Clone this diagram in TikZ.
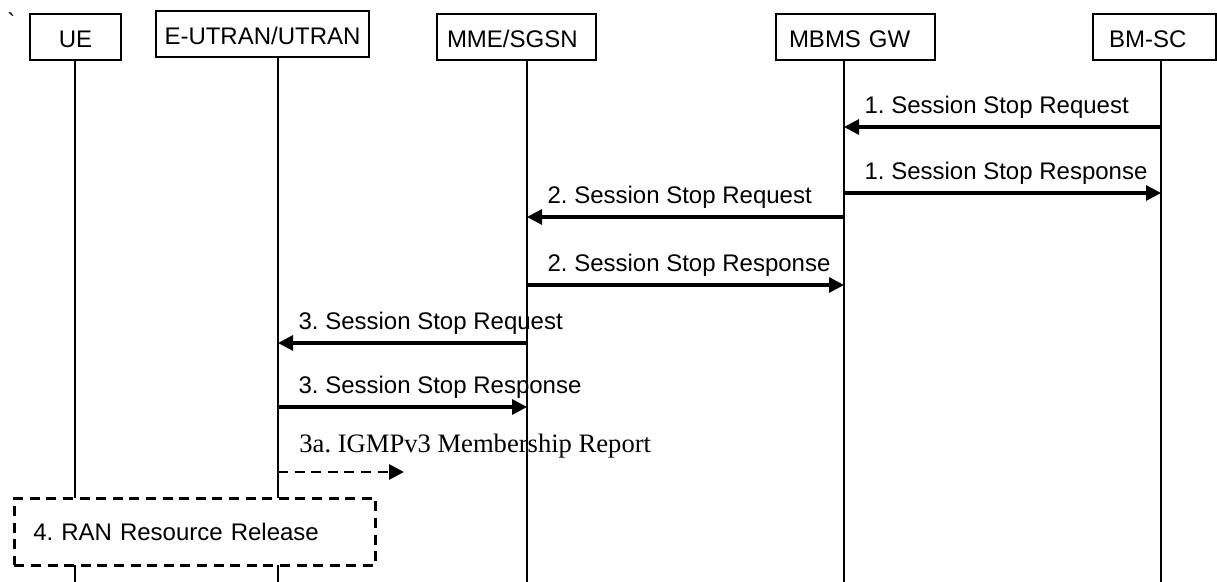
\documentclass[tikz,border=0pt]{standalone}
\usepackage{fontspec}
\setmainfont{Liberation Sans}
\newfontfamily\timesfont{Liberation Serif}
\newfontfamily\gravefont{Liberation Sans}[Ligatures=TeXOff]
\usetikzlibrary{arrows.meta}
\frenchspacing
\tikzset{
  every picture/.style={font={\fontsize{12}{14}\selectfont}, >={Triangle[length=7.5pt,width=7.5pt]}}}

\begin{document}
\begin{tikzpicture}[
    entity/.style={
      draw,
      line width=1pt,
      anchor=north west,
      minimum height=23pt,
      inner ysep=0pt,
      text height=11pt,
      text depth=0pt},
    padded/.style={
      align=left,
      inner xsep=#1,
      text width=79.5pt-2*#1},
    lifeline/.style={line width=0.8pt},
    msg/.style={->, line width=1.6pt},
    note/.style={line width=1.4pt, dash pattern=on 5pt off 3.3pt},
    msglabel/.style={anchor=base west, xshift=9.5pt, yshift=6.5pt, inner sep=0pt}]

    \useasboundingbox (0,0) rectangle (608.5pt,-291pt);

    \node[anchor=base west, inner sep=0pt, font=\gravefont\fontsize{12}{14}\selectfont] (tick) at (3.5pt,-15.5pt) {`};

    % entities
    \node[entity, minimum width=45.5pt] (UE) at (14.5pt,-6.5pt) {UE};
    \node[entity, minimum width=106.5pt, inner xsep=0pt] (RAN) at (77.5pt,-5pt) {E-UTRAN/UTRAN};
    \node[entity, minimum width=79.5pt, padded=5pt] (MME) at (218pt,-6.5pt) {MME/SGSN};
    \node[entity, minimum width=79.5pt, padded=6.5pt] (GW) at (387.5pt,-6.5pt) {MBMS GW};
    \node[entity, minimum width=61.5pt, align=left, inner xsep=8pt, text width=45.5pt] (BMSC) at (546pt,-6.5pt) {BM-SC};

    % lifelines
    \coordinate (UEx) at (37.5pt,0);
    \coordinate (RANx) at (139pt,0);
    \coordinate (MMEx) at (263.5pt,0);
    \coordinate (GWx) at (422pt,0);
    \coordinate (BMSCx) at (580.5pt,0);
    \coordinate (floor) at (0,-291pt);

    \draw[lifeline] (UE.south -| UEx) -- (floor -| UEx);
    \draw[lifeline] (RAN.south -| RANx) -- (floor -| RANx);
    \draw[lifeline] (MME.south -| MMEx) -- (floor -| MMEx);
    \draw[lifeline] (GW.south -| GWx) -- (floor -| GWx);
    \draw[lifeline] (BMSC.south -| BMSCx) -- (floor -| BMSCx);

    % messages
    \coordinate (r1) at (0,-63.5pt);
    \coordinate (r2) at (0,-96.5pt);
    \coordinate (r3) at (0,-108.5pt);
    \coordinate (r4) at (0,-142.5pt);
    \coordinate (r5) at (0,-171.5pt);
    \coordinate (r6) at (0,-203.5pt);
    \coordinate (r7) at (0,-236pt);

    \draw[msg] (r1 -| BMSCx) -- (r1 -| GWx) node[msglabel, at end] (m1req) {1. Session Stop Request};
    \draw[msg] (r2 -| GWx) -- (r2 -| BMSCx) node[msglabel, at start] (m1rsp) {1. Session Stop Response};
    \draw[msg] (r3 -| GWx) -- (r3 -| MMEx) node[msglabel, at end] (m2req) {2. Session Stop Request};
    \draw[msg] (r4 -| MMEx) -- (r4 -| GWx) node[msglabel, at start] (m2rsp) {2. Session Stop Response};
    \draw[msg] (r5 -| MMEx) -- (r5 -| RANx) node[msglabel, at end] (m3req) {3. Session Stop Request};
    \draw[msg] (r6 -| RANx) -- (r6 -| MMEx) node[msglabel, at start] (m3rsp) {3. Session Stop Response};

    \coordinate (igmpEnd) at (202pt,-236pt);
    \draw[msg, note] (r7 -| RANx) -- (igmpEnd)
      node[msglabel, at start, xshift=0.5pt, yshift=3pt, font=\timesfont\fontsize{13.3}{15}\selectfont] (m3a) {3a. IGMPv3 Membership Report};

    % release
    \node[draw, note, fill=white, anchor=north west, minimum width=180.5pt, minimum height=33.5pt,
      inner xsep=9.5pt, text width=161.5pt, align=left] (release) at (6.5pt,-248.5pt) {4. RAN Resource Release};
  \end{tikzpicture}
\end{document}
